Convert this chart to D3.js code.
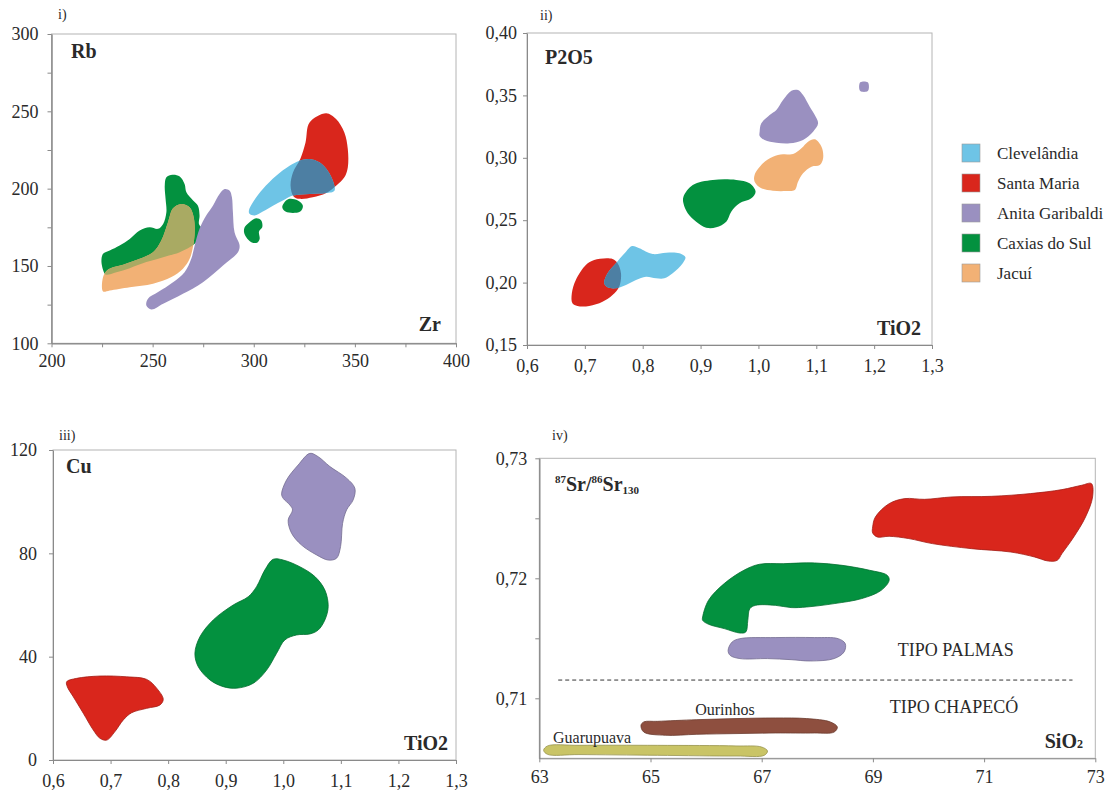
<!DOCTYPE html>
<html><head><meta charset="utf-8">
<script src="https://cdn.jsdelivr.net/npm/d3@7"></script>
<style>
body{margin:0;background:#fff}
svg{display:block}
text{font-family:'Liberation Serif','Times New Roman',serif;fill:#2a2a2a}
</style>
</head><body>
<svg id="c" width="1116" height="791"></svg>
<script>
// ---------- legend ----------
const groups = ["Clevelândia","Santa Maria","Anita Garibaldi","Caxias do Sul","Jacuí"];
const groupColors = ["#6EC4E6","#D9261C","#9A90C0","#03913F","#F2B175"];
const overlapSteel = "#4D7FA3";
const overlapOlive = "#A9AA63";
const ourinhosColor = "#8E4F3F";
const guarupuavaColor = "#C9C466";

// ---------- ticks ----------
const ticksI_x = [200,250,300,350,400];
const minorI_x = [225,275,325,375];
const ticksI_y = [100,150,200,250,300];
const minorI_y = [125,175,225,275];
const ticksTiO2 = [0.6,0.7,0.8,0.9,1.0,1.1,1.2,1.3];
const ticksII_y = [0.15,0.20,0.25,0.30,0.35,0.40];
const ticksIII_y = [0,40,80,120];
const ticksIV_x = [63,65,67,69,71,73];
const ticksIV_y = [0.71,0.72,0.73];
const minorIV_y = [0.715,0.725];

// ---------- panel i : Rb vs Zr ----------
const rbZr_santaMaria = [[327.6,242.8],[335.8,248.8],[340.7,245.0],[344.8,236.3],[346.5,225.6],[346.5,213.7],[344.8,207.3],[340.7,201.9],[335.8,197.2],[329.2,194.4],[322.6,193.4],[319.7,195.0],[318.2,201.9],[319.4,210.5],[323.0,219.2],[325.6,229.9]];
const rbZr_clevelandia = [[297.6,185.8],[299.6,191.2],[304.5,199.8],[311.1,208.4],[317.7,214.8],[322.6,218.1],[327.6,219.2],[332.5,217.0],[336.6,211.6],[339.4,204.1],[339.9,198.7],[335.8,197.2],[327.6,196.6],[319.3,195.5],[314.4,192.3],[309.5,189.0],[304.5,185.2],[300.4,182.6],[297.9,183.7]];
const rbZr_caxias = [[226.3,145.0],[224.7,152.5],[225.5,157.9],[228.8,160.0],[233.7,163.2],[238.7,167.5],[243.6,172.9],[248.5,175.0],[252.7,174.0],[255.2,177.2],[256.8,184.7],[256.4,193.4],[256.0,201.9],[256.8,207.3],[259.8,209.0],[263.4,207.9],[265.8,203.0],[266.7,197.6],[270.0,192.3],[272.4,189.0],[273.2,182.6],[272.9,177.2],[274.6,173.5],[272.4,167.5],[270.8,164.3],[263.4,158.9],[255.2,155.7],[246.9,152.5],[238.7,148.6],[232.1,146.0],[227.2,144.3]];
const rbZr_caxiasB = [[315.2,191.2],[317.7,193.4],[321.8,192.3],[324.3,189.0],[323.0,185.2],[319.4,184.3],[315.7,185.2],[314.1,188.0]];
const rbZr_caxiasC = [[295.5,175.0],[297.9,178.3],[301.2,180.8],[303.7,179.4],[304.2,175.0],[302.6,172.3],[302.9,167.5],[301.6,165.0],[298.8,165.4],[296.3,168.6],[295.2,171.8]];
const rbZr_jacui = [[225.5,133.5],[225.5,142.8],[228.0,147.7],[235.4,150.8],[243.6,154.6],[250.2,158.9],[254.3,166.5],[257.6,178.3],[260.1,187.3],[264.2,190.1],[268.3,187.9],[270.3,181.5],[270.8,171.8],[269.9,162.1],[268.3,154.6],[265.0,148.2],[259.3,142.8],[250.2,138.5],[238.7,136.3],[228.8,134.2]];
const rbZr_anita = [[285.6,199.8],[288.1,198.7],[289.2,194.4],[289.7,184.7],[290.5,171.8],[293.0,163.2],[292.2,158.9],[284.8,150.3],[274.9,139.5],[265.0,132.0],[255.2,125.6],[249.4,121.9],[246.9,124.5],[247.7,128.8],[252.7,133.1],[260.1,139.5],[265.8,146.0],[269.1,154.6],[270.8,163.2],[273.2,174.0],[276.5,182.6],[279.8,189.0],[283.1,196.6]];

// ---------- panel ii : P2O5 vs TiO2 ----------
const p2o5_santaMaria = [[0.6785,0.1834],[0.6775,0.1914],[0.6844,0.2021],[0.7017,0.2141],[0.7161,0.2181],[0.7478,0.2189],[0.7565,0.2155],[0.7624,0.2075],[0.7594,0.1967],[0.7478,0.1901],[0.7305,0.1847],[0.7075,0.1813],[0.6872,0.1813]];
const p2o5_clevelandia = [[0.7334,0.1994],[0.7392,0.2074],[0.7537,0.2155],[0.7711,0.2248],[0.7814,0.2293],[0.7941,0.2275],[0.8172,0.2229],[0.8404,0.2240],[0.8634,0.2235],[0.8738,0.2203],[0.8692,0.2155],[0.8518,0.2074],[0.8374,0.2034],[0.8230,0.2034],[0.8057,0.2047],[0.7884,0.2021],[0.7711,0.1981],[0.7537,0.1954],[0.7392,0.1962]];
const p2o5_caxias = [[0.8704,0.2688],[0.8865,0.2782],[0.9212,0.2822],[0.9617,0.2822],[0.9847,0.2796],[0.9951,0.2728],[0.9877,0.2675],[0.9674,0.2635],[0.9530,0.2568],[0.9444,0.2488],[0.9270,0.2443],[0.9097,0.2440],[0.8924,0.2488],[0.8778,0.2555],[0.8704,0.2635]];
const p2o5_jacui = [[0.9934,0.2862],[1.0078,0.2956],[1.0251,0.3009],[1.0425,0.3028],[1.0598,0.3030],[1.0743,0.3076],[1.0858,0.3129],[1.0974,0.3148],[1.1090,0.3089],[1.1118,0.2996],[1.1061,0.2942],[1.0917,0.2929],[1.0771,0.2876],[1.0685,0.2809],[1.0627,0.2742],[1.0484,0.2734],[1.0251,0.2736],[1.0050,0.2756],[0.9934,0.2809]];
const p2o5_anita = [[1.0021,0.3209],[1.0050,0.3276],[1.0194,0.3343],[1.0310,0.3383],[1.0425,0.3463],[1.0570,0.3538],[1.0685,0.3543],[1.0771,0.3503],[1.0887,0.3409],[1.0974,0.3343],[1.1031,0.3276],[1.0945,0.3209],[1.0771,0.3143],[1.0541,0.3116],[1.0310,0.3121],[1.0107,0.3143],[1.0021,0.3175]];
const p2o5_anitaB = [[1.1760,0.3605],[1.1825,0.3612],[1.1890,0.3605],[1.1910,0.3570],[1.1890,0.3535],[1.1825,0.3528],[1.1760,0.3535],[1.1740,0.3570]];

// ---------- panel iii : Cu vs TiO2 ----------
const cu_santaMaria = [[0.6238,30.3],[0.6411,31.6],[0.6816,32.5],[0.7279,32.2],[0.7627,31.2],[0.7800,27.8],[0.7915,23.5],[0.7858,21.3],[0.7627,20.0],[0.7366,18.3],[0.7221,15.5],[0.7076,11.0],[0.6932,7.7],[0.6816,8.4],[0.6700,11.6],[0.6526,18.1],[0.6352,24.5],[0.6248,28.4]];
const cu_caxias = [[0.9825,77.7],[0.9998,77.4],[1.0288,74.8],[1.0549,71.0],[1.0722,65.8],[1.0780,59.4],[1.0722,54.2],[1.0606,50.3],[1.0462,48.8],[1.0231,48.4],[1.0028,46.5],[0.9884,41.3],[0.9710,34.8],[0.9478,29.7],[0.9189,27.8],[0.8957,28.4],[0.8726,31.0],[0.8523,36.1],[0.8465,41.3],[0.8552,47.7],[0.8783,54.2],[0.9130,60.0],[0.9391,63.2],[0.9536,67.1],[0.9681,73.6]];
const cu_anita = [[1.0462,118.7],[1.0606,117.4],[1.0809,113.6],[1.1099,109.1],[1.1243,105.2],[1.1214,100.7],[1.1099,96.8],[1.1030,91.6],[1.0995,82.6],[1.0925,78.1],[1.0780,77.4],[1.0578,79.4],[1.0318,83.2],[1.0144,87.8],[1.0085,92.9],[1.0161,96.8],[1.0115,98.7],[0.9998,101.3],[0.9971,103.0],[1.0057,108.4],[1.0259,114.2]];

// ---------- panel iv : 87Sr/86Sr vs SiO2 ----------
const sr_santaMaria = [[68.996,0.72428],[69.045,0.72511],[69.292,0.72622],[69.575,0.72664],[69.928,0.72658],[70.422,0.72678],[71.129,0.72683],[71.835,0.72706],[72.400,0.72739],[72.753,0.72775],[72.930,0.72789],[72.951,0.72678],[72.824,0.72511],[72.612,0.72344],[72.400,0.72206],[72.315,0.72150],[72.153,0.72144],[71.905,0.72178],[71.481,0.72219],[70.775,0.72247],[70.070,0.72289],[69.646,0.72331],[69.292,0.72350],[69.081,0.72344],[68.996,0.72378]];
const sr_caxias = [[65.938,0.71678],[66.044,0.71817],[66.326,0.71956],[66.680,0.72067],[66.962,0.72117],[67.386,0.72122],[67.951,0.72128],[68.445,0.72108],[68.939,0.72067],[69.257,0.72025],[69.292,0.71983],[69.150,0.71900],[68.799,0.71831],[68.303,0.71789],[67.809,0.71761],[67.528,0.71756],[67.244,0.71775],[66.892,0.71775],[66.786,0.71747],[66.750,0.71650],[66.714,0.71553],[66.608,0.71544],[66.326,0.71581],[66.044,0.71617],[65.938,0.71650]];
const sr_anita = [[66.396,0.71400],[66.468,0.71469],[66.608,0.71497],[67.244,0.71506],[67.951,0.71506],[68.375,0.71497],[68.502,0.71456],[68.481,0.71386],[68.303,0.71331],[67.879,0.71311],[67.528,0.71322],[67.104,0.71331],[66.608,0.71331],[66.432,0.71358]];
const sr_ourinhos = [[64.829,0.70775],[64.879,0.70803],[65.125,0.70808],[65.833,0.70822],[66.538,0.70831],[67.244,0.70836],[67.809,0.70831],[68.233,0.70803],[68.360,0.70761],[68.303,0.70719],[67.951,0.70711],[67.244,0.70711],[66.538,0.70706],[65.833,0.70700],[65.267,0.70692],[64.879,0.70719]];
const sr_guarupuava = [[63.078,0.70567],[63.148,0.70603],[63.714,0.70608],[65.125,0.70608],[66.538,0.70603],[66.998,0.70594],[67.104,0.70561],[67.047,0.70525],[66.538,0.70519],[65.125,0.70525],[63.714,0.70531],[63.148,0.70533]];
const sr_divide = [[63.34,0.71152],[72.59,0.71152]];
const srLabels = [["TIPO PALMAS",70.49,0.71403,18],["TIPO CHAPECÓ",70.46,0.7093,18],["Ourinhos",66.34,0.70908,16],["Guarupuava",63.95,0.70672,16]];

// ---------- drawing ----------
const svg = d3.select('#c');
const FONT = "'Liberation Serif','Times New Roman',serif";
let clipId = 0;

function makePanel(cfg){
  const x = d3.scaleLinear().domain(cfg.xd).range(cfg.xr);
  const y = d3.scaleLinear().domain(cfg.yd).range(cfg.yr);
  const g = svg.append('g');
  const gShapes = g.append('g');
  const gAxes = g.append('g');
  gAxes.append('rect').attr('x',cfg.xr[0]).attr('y',cfg.yr[1])
    .attr('width',cfg.xr[1]-cfg.xr[0]).attr('height',cfg.yr[0]-cfg.yr[1])
    .attr('fill','none').attr('stroke','#b4b4b4').attr('stroke-width',1);
  const styleAxis = sel => {
    sel.attr('font-family',FONT).attr('font-size',cfg.fs);
    sel.select('.domain').attr('stroke','#8a8a8a');
    sel.selectAll('.tick line').attr('stroke','#8a8a8a');
    sel.selectAll('.tick text').attr('fill','#2a2a2a').style('font-size',cfg.fs+'px').style('font-family',FONT);
  };
  const bx = gAxes.append('g').attr('transform',`translate(0,${cfg.yr[0]})`)
    .call(d3.axisBottom(x).tickValues(cfg.xt).tickFormat(cfg.xf).tickSizeInner(4).tickSizeOuter(0).tickPadding(cfg.xpad));
  styleAxis(bx);
  const by = gAxes.append('g').attr('transform',`translate(${cfg.xr[0]},0)`)
    .call(d3.axisLeft(y).tickValues(cfg.yt).tickFormat(cfg.yf).tickSizeInner(4).tickSizeOuter(0).tickPadding(cfg.ypad));
  styleAxis(by);
  if(cfg.xm){ const m = gAxes.append('g').attr('transform',`translate(0,${cfg.yr[0]})`).call(d3.axisBottom(x).tickValues(cfg.xm).tickFormat('').tickSizeInner(4).tickSizeOuter(0)); styleAxis(m); }
  if(cfg.ym){ const m = gAxes.append('g').attr('transform',`translate(${cfg.xr[0]},0)`).call(d3.axisLeft(y).tickValues(cfg.ym).tickFormat('').tickSizeInner(4).tickSizeOuter(0)); styleAxis(m); }
  const line = d3.line().x(d=>x(d[0])).y(d=>y(d[1])).curve(d3.curveCatmullRomClosed.alpha(0.5));
  return {x,y,g,gShapes,gAxes,line};
}
function blob(p, pts, color, stroke){
  const path = p.gShapes.append('path').attr('d', p.line(pts)).attr('fill', color);
  if(stroke) path.attr('stroke', d3.color(color).darker(0.8)).attr('stroke-width',0.8);
  else path.attr('stroke','none');
  return path;
}
function overlap(p, clipPts, pts, color){
  const id = 'clip' + (clipId++);
  p.gShapes.append('clipPath').attr('id', id).append('path').attr('d', p.line(clipPts));
  p.gShapes.append('path').attr('d', p.line(pts)).attr('fill', color).attr('clip-path', `url(#${id})`);
}
function label(x, y, txt, opts={}){
  return svg.append('text').attr('x',x).attr('y',y).text(txt)
    .style('font-size',(opts.fs||20)+'px').style('font-weight',opts.bold?'bold':'normal')
    .attr('text-anchor',opts.anchor||'start');
}
const comma1 = d => d.toFixed(1).replace('.',',');
const comma2 = d => d.toFixed(2).replace('.',',');

// Panel i
const P1 = makePanel({xd:[200,400],xr:[51.5,456],yd:[100,300],yr:[343.3,34],xt:ticksI_x,xm:minorI_x,yt:ticksI_y,ym:minorI_y,xf:d3.format('d'),yf:d3.format('d'),xpad:7,ypad:9,fs:18});
blob(P1, rbZr_santaMaria, groupColors[1]);
blob(P1, rbZr_clevelandia, groupColors[0]);
overlap(P1, rbZr_santaMaria, rbZr_clevelandia, overlapSteel);
blob(P1, rbZr_caxiasB, groupColors[3]);
blob(P1, rbZr_caxiasC, groupColors[3]);
blob(P1, rbZr_caxias, groupColors[3]);
blob(P1, rbZr_jacui, groupColors[4]);
overlap(P1, rbZr_caxias, rbZr_jacui, overlapOlive);
blob(P1, rbZr_anita, groupColors[2]);
label(58,19,'i)',{fs:14});
label(71,58,'Rb',{bold:true});
label(441,331,'Zr',{bold:true,anchor:'end'});

// Panel ii
const P2 = makePanel({xd:[0.6,1.3],xr:[527,932],yd:[0.15,0.40],yr:[345,33],xt:ticksTiO2,yt:ticksII_y,xf:comma1,yf:comma2,xpad:10,ypad:6,fs:18});
blob(P2, p2o5_santaMaria, groupColors[1]);
blob(P2, p2o5_clevelandia, groupColors[0]);
overlap(P2, p2o5_santaMaria, p2o5_clevelandia, overlapSteel);
blob(P2, p2o5_caxias, groupColors[3]);
blob(P2, p2o5_jacui, groupColors[4]);
blob(P2, p2o5_anita, groupColors[2]);
blob(P2, p2o5_anitaB, groupColors[2]);
label(540,20,'ii)',{fs:14});
label(545,64,'P2O5',{bold:true});
label(921,335,'TiO2',{bold:true,anchor:'end'});

// Legend
const leg = svg.append('g');
groups.forEach((name,i)=>{
  const cy = 153 + i*30;
  leg.append('rect').attr('x',962).attr('y',cy-9).attr('width',18).attr('height',18)
    .attr('fill',groupColors[i]).attr('stroke','#9a9a9a').attr('stroke-width',0.6);
  leg.append('text').attr('x',997).attr('y',cy+6).text(name).style('font-size','17px');
});

// Panel iii
const P3 = makePanel({xd:[0.6,1.3],xr:[53,456],yd:[0,120],yr:[760,450],xt:ticksTiO2,yt:ticksIII_y,xf:comma1,yf:d3.format('d'),xpad:10,ypad:12,fs:18});
blob(P3, cu_santaMaria, groupColors[1], true);
blob(P3, cu_caxias, groupColors[3], true);
blob(P3, cu_anita, groupColors[2], true);
label(59,440,'iii)',{fs:14});
label(66,473,'Cu',{bold:true});
label(448,750,'TiO2',{bold:true,anchor:'end'});

// Panel iv
const P4 = makePanel({xd:[63,73],xr:[539.3,1095.3],yd:[0.705,0.73],yr:[758.3,458.3],xt:ticksIV_x,yt:ticksIV_y,ym:minorIV_y,xf:d3.format('d'),yf:comma2,xpad:8,ypad:8,fs:18});
blob(P4, sr_santaMaria, groupColors[1], true);
blob(P4, sr_caxias, groupColors[3], true);
blob(P4, sr_anita, groupColors[2], true);
blob(P4, sr_ourinhos, ourinhosColor, true);
blob(P4, sr_guarupuava, guarupuavaColor, true);
P4.gShapes.append('path').attr('d', d3.line().x(d=>P4.x(d[0])).y(d=>P4.y(d[1]))(sr_divide))
  .attr('stroke','#333').attr('stroke-width',1).attr('stroke-dasharray','4,3').attr('fill','none');
srLabels.forEach(([t,xv,yv,fs])=>{
  svg.append('text').attr('x',P4.x(xv)).attr('y',P4.y(yv)).attr('dy','0.35em')
    .attr('text-anchor','middle').text(t).style('font-size',fs+'px');
});
label(552,440,'iv)',{fs:14});
const srT = svg.append('text').attr('x',555).attr('y',491).style('font-weight','bold').style('font-size','20px');
srT.append('tspan').text('87').style('font-size','11px').attr('dy',-8);
srT.append('tspan').text('Sr/').attr('dy',8);
srT.append('tspan').text('86').style('font-size','11px').attr('dy',-8);
srT.append('tspan').text('Sr').attr('dy',8);
srT.append('tspan').text('130').style('font-size','11px').attr('dy',3);
const siT = svg.append('text').attr('x',1083).attr('y',748).attr('text-anchor','end').style('font-weight','bold').style('font-size','20px');
siT.append('tspan').text('SiO');
siT.append('tspan').text('2').style('font-size','12px');
</script>
</body></html>
